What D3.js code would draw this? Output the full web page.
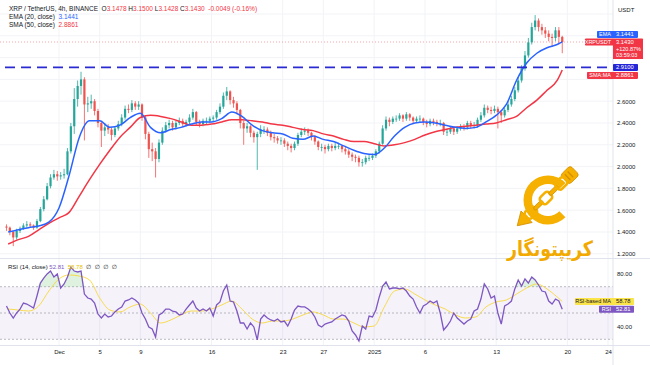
<!DOCTYPE html>
<html>
<head>
<meta charset="utf-8">
<script src="https://cdn.jsdelivr.net/npm/d3@7"></script>
<style>
  body { margin: 0; background: #fff; }
  svg text { font-family: "Liberation Sans", Arial, "DejaVu Sans", sans-serif; white-space: pre; }
</style>
</head>
<body>
<div id="chart"></div>
<script>
// XRP / TetherUS 4h (8h steps)
let firstOpen = 1.45
let closes = [
  1.44,1.40,1.35,1.41,1.43,1.46,1.47,1.46,1.44,1.50,
  1.61,1.70,1.82,1.90,1.93,1.91,1.92,1.93,2.14,2.37,
  2.62,2.74,2.80,2.57,2.58,2.60,2.51,2.40,2.33,2.36,
  2.34,2.29,2.35,2.39,2.45,2.53,2.52,2.58,2.55,2.57,
  2.45,2.30,2.16,2.14,2.07,2.22,2.33,2.38,2.40,2.36,
  2.40,2.42,2.39,2.41,2.45,2.50,2.41,2.39,2.42,2.42,
  2.44,2.45,2.50,2.55,2.65,2.69,2.61,2.58,2.52,2.40,
  2.35,2.37,2.31,2.27,2.30,2.34,2.34,2.31,2.27,2.26,
  2.24,2.24,2.21,2.19,2.17,2.21,2.29,2.32,2.33,2.31,
  2.27,2.23,2.18,2.18,2.16,2.19,2.17,2.19,2.19,2.16,
  2.14,2.11,2.09,2.08,2.04,2.04,2.08,2.08,2.10,2.14,
  2.21,2.35,2.43,2.41,2.44,2.44,2.47,2.44,2.48,2.45,
  2.42,2.44,2.44,2.41,2.39,2.42,2.41,2.40,2.40,2.32,
  2.32,2.35,2.32,2.35,2.37,2.36,2.40,2.38,2.38,2.43,
  2.47,2.54,2.52,2.51,2.53,2.50,2.47,2.52,2.57,2.62,
  2.70,2.79,2.90,3.02,3.14,3.28,3.34,3.28,3.25,3.22,
  3.19,3.18,3.25,3.19,3.143
]
let highs = [
  1.47,1.45,1.41,1.43,1.45,1.48,1.50,1.49,1.47,1.52,
  1.63,1.73,1.85,1.93,1.97,1.96,1.95,1.98,2.17,2.40,
  2.72,2.79,2.87,2.82,2.64,2.66,2.62,2.53,2.42,2.40,
  2.39,2.36,2.37,2.42,2.48,2.56,2.57,2.61,2.60,2.60,
  2.58,2.47,2.32,2.22,2.17,2.25,2.36,2.41,2.43,2.42,
  2.42,2.45,2.44,2.43,2.48,2.53,2.51,2.43,2.44,2.45,
  2.46,2.47,2.52,2.58,2.68,2.73,2.70,2.64,2.60,2.53,
  2.42,2.40,2.38,2.33,2.32,2.38,2.37,2.36,2.33,2.30,
  2.28,2.27,2.26,2.23,2.21,2.23,2.31,2.35,2.36,2.35,
  2.32,2.29,2.24,2.21,2.20,2.21,2.21,2.22,2.22,2.20,
  2.18,2.16,2.13,2.11,2.10,2.07,2.10,2.11,2.12,2.16,
  2.23,2.38,2.46,2.45,2.46,2.47,2.49,2.48,2.50,2.49,
  2.46,2.46,2.47,2.45,2.43,2.44,2.44,2.43,2.43,2.41,
  2.35,2.37,2.36,2.37,2.39,2.39,2.42,2.42,2.41,2.45,
  2.50,2.57,2.56,2.55,2.56,2.55,2.52,2.54,2.60,2.65,
  2.73,2.82,2.93,3.06,3.18,3.32,3.39,3.36,3.31,3.28,
  3.25,3.22,3.28,3.28,3.20
]
let lows = [
  1.41,1.37,1.27,1.33,1.39,1.42,1.44,1.44,1.42,1.43,
  1.49,1.59,1.69,1.80,1.88,1.87,1.88,1.89,1.92,2.12,
  2.30,2.55,2.66,2.24,2.50,2.53,2.47,2.36,2.18,2.28,
  2.30,2.24,2.27,2.33,2.37,2.43,2.49,2.50,2.52,2.52,
  2.42,2.25,2.08,2.05,1.90,2.04,2.20,2.31,2.35,2.33,
  2.34,2.38,2.37,2.37,2.39,2.43,2.38,2.36,2.37,2.39,
  2.40,2.41,2.43,2.48,2.53,2.61,2.57,2.54,2.48,2.35,
  2.20,2.31,2.27,2.22,1.97,2.27,2.30,2.28,2.24,2.22,
  2.21,2.20,2.18,2.15,2.13,2.15,2.19,2.27,2.29,2.28,
  2.24,2.20,2.15,2.14,2.12,2.14,2.14,2.15,2.16,2.13,
  2.11,2.08,2.05,2.04,2.00,2.00,2.02,2.05,2.06,2.08,
  2.12,2.20,2.33,2.37,2.39,2.41,2.42,2.41,2.42,2.42,
  2.39,2.40,2.41,2.38,2.36,2.37,2.38,2.37,2.37,2.29,
  2.28,2.30,2.29,2.30,2.33,2.33,2.34,2.35,2.35,2.36,
  2.41,2.45,2.49,2.48,2.49,2.35,2.40,2.45,2.50,2.55,
  2.60,2.68,2.77,2.88,3.00,3.12,3.25,3.24,3.21,3.18,
  3.15,3.10,3.15,3.12,3.04
]
let rsiValues = [
  55.3,50.0,46.2,50.0,53.0,57.6,56.8,55.3,53.8,62.9,
  72.8,76.6,79.7,81.9,77.4,79.7,69.0,72.1,77.4,85.0,
  81.9,81.2,81.9,64.4,61.4,60.6,57.6,49.2,46.2,49.2,
  47.0,47.7,50.8,53.0,54.6,59.1,59.9,61.4,59.9,57.6,
  50.0,45.4,39.4,37.8,31.7,48.5,50.0,53.0,53.0,51.5,
  50.8,48.5,49.2,53.0,56.1,59.1,53.8,51.5,53.0,51.5,
  53.8,47.7,56.1,58.4,66.7,71.3,59.1,58.4,51.5,42.4,
  42.4,37.8,42.4,39.4,29.5,45.4,48.5,46.2,44.7,43.9,
  45.4,43.2,43.9,40.1,45.4,52.3,55.3,54.6,54.6,53.0,
  50.8,47.0,40.9,39.4,41.6,42.4,43.2,45.4,47.0,48.5,
  47.7,43.9,36.3,33.3,28.7,40.1,37.8,47.7,47.0,52.3,
  62.2,70.5,73.6,68.3,69.0,69.0,68.3,69.0,66.7,62.9,
  60.6,54.6,50.0,55.3,56.8,59.1,57.6,59.1,50.0,37.1,
  40.1,43.9,50.0,46.2,43.9,41.6,43.9,45.4,51.5,53.0,
  60.6,72.1,68.3,61.4,62.9,50.0,41.6,55.3,56.8,59.1,
  68.3,75.1,70.5,75.9,72.8,77.4,75.1,71.3,66.7,66.0,
  59.1,56.8,60.6,59.1,52.81
]

// indicator lines, one value per day from Nov 26 to Jan 19, then the live value
let emaDaily = [
  1.40,1.42,1.44,1.455,1.49, 1.62,1.92,2.27,2.42,2.42,
  2.36,2.38,2.45,2.49,2.36, 2.31,2.34,2.36,2.39,2.41,
  2.41,2.44,2.50,2.46,2.38, 2.33,2.31,2.30,2.26,2.25,
  2.28,2.25,2.23,2.19,2.15, 2.12,2.11,2.17,2.28,2.36,
  2.40,2.41,2.40,2.38,2.36, 2.35,2.36,2.41,2.47,2.57,
  2.79,2.95,3.04,3.09,3.12
]
let smaDaily = [
  1.29,1.33,1.36,1.42,1.48, 1.53,1.58,1.73,1.88,2.02,
  2.15,2.27,2.36,2.45,2.47, 2.46,2.44,2.41,2.38,2.38,
  2.39,2.41,2.43,2.43,2.42, 2.41,2.39,2.38,2.36,2.34,
  2.33,2.30,2.28,2.25,2.23, 2.23,2.21,2.19,2.20,2.22,
  2.25,2.29,2.32,2.34,2.36, 2.37,2.38,2.39,2.40,2.43,
  2.46,2.54,2.61,2.70,2.79
]
let rsiMaDaily = [
  53.0,52.3,51.5,55.3,66.7, 75.9,78.9,78.1,75.1,61.4,
  52.3,50.8,54.6,56.8,50.0, 42.4,44.7,48.5,51.5,51.5,
  53.0,56.1,59.1,53.0,45.4, 42.4,43.9,43.9,45.4,48.5,
  50.8,48.5,45.4,45.4,42.4, 39.4,40.1,54.6,66.7,68.3,
  64.4,59.9,56.1,53.0,48.5, 46.2,47.0,54.6,58.4,59.9,
  64.4,69.0,72.1,68.3,62.2
]
let emaLast = 3.1441
let smaLast = 2.8861
let rsiMaLast = 58.78
let rsiLast = 52.81
let supportLevel = 2.91

let priceTicks = [1.2, 1.4, 1.6, 1.8, 2.0, 2.2, 2.4, 2.6]
let gridPrices = [1.2, 1.4, 1.6, 1.8, 2.0, 2.2, 2.4, 2.6, 2.8, 3.0, 3.2, 3.4]
let rsiTicks = [80, 40]
let timeTicks = ["2024-12-01","2024-12-05","2024-12-09","2024-12-16","2024-12-23","2024-12-27",
                 "2025-01-01","2025-01-06","2025-01-13","2025-01-20","2025-01-24"]
let timeTickLabels = ["Dec","5","9","16","23","27","2025","6","13","20","24"]
let ohlcNames = ["O","H","L","C"]
let ohlcValues = ["3.1478","3.1500","3.1428","3.1430"]

// ---- layout ----
let W = 613, mainBottom = 258, rsiBottom = 345
let up = "#26a69a", down = "#ef5350"
let emaColor = "#2962ff", smaColor = "#f23645", rsiColor = "#7e57c2", rsiMaColor = "#f7d83a"

let parseDay = d3.timeParse("%Y-%m-%d")
let tickDates = timeTicks.map(parseDay)
let candleStart = new Date(2024, 10, 25, 20)
let step = 8 * 3600 * 1000
let lastTime = new Date(candleStart.getTime() + (closes.length - 1) * step)
let firstDay = new Date(2024, 10, 26)

let x = d3.scaleTime().domain([new Date(2024, 11, 1), new Date(2025, 0, 24)]).range([59, 608])
let y = d3.scaleLinear().domain([1.2, 2.6]).range([253.8, 101.2])
let rsiY = d3.scaleLinear().domain([30, 70]).range([339.3, 286.7])

let svg = d3.select("#chart").append("svg").attr("width", 650).attr("height", 365)
svg.append("rect").attr("width", 650).attr("height", 365).attr("fill", "#fff")

let defs = svg.append("defs")
defs.append("clipPath").attr("id", "mainClip").append("rect")
  .attr("x", 0).attr("y", 0).attr("width", W).attr("height", mainBottom)
defs.append("clipPath").attr("id", "rsiClip").append("rect")
  .attr("x", 0).attr("y", mainBottom + 1).attr("width", W).attr("height", rsiBottom - mainBottom - 1)

// grid
let grid = svg.append("g")
grid.selectAll(".hg").data(gridPrices).enter().append("line")
  .attr("x1", 0).attr("x2", W).attr("y1", d => y(d)).attr("y2", d => y(d))
  .attr("stroke", "#f2f3f7").attr("stroke-width", 1)
grid.selectAll(".vg").data(tickDates).enter().append("line")
  .attr("x1", d => x(d)).attr("x2", d => x(d)).attr("y1", 0).attr("y2", rsiBottom)
  .attr("stroke", "#f2f3f7").attr("stroke-width", 1)

// ---- main pane ----
let main = svg.append("g").attr("clip-path", "url(#mainClip)")

let candles = closes.map(function(c, i) {
  return {t: new Date(candleStart.getTime() + i * step), o: i == 0 ? firstOpen : closes[i - 1], h: highs[i], l: lows[i], c: c}
})

// current price dotted line
main.append("line").attr("x1", 0).attr("x2", W).attr("y1", y(closes[closes.length - 1])).attr("y2", y(closes[closes.length - 1]))
  .attr("stroke", "#f23645").attr("stroke-opacity", 0.45).attr("stroke-dasharray", "1,2")

let cg = main.append("g")
cg.selectAll("line").data(candles).enter().append("line")
  .attr("x1", d => x(d.t)).attr("x2", d => x(d.t))
  .attr("y1", d => y(d.h)).attr("y2", d => y(d.l))
  .attr("stroke", d => d.c >= d.o ? up : down).attr("stroke-width", 0.8)
cg.selectAll("rect").data(candles).enter().append("rect")
  .attr("x", d => x(d.t) - 1.1).attr("width", 2.2)
  .attr("y", d => y(Math.max(d.o, d.c)))
  .attr("height", d => Math.max(0.8, Math.abs(y(d.o) - y(d.c))))
  .attr("fill", d => d.c >= d.o ? up : down)

function dailyPoints(vals, last) {
  let pts = vals.map((v, i) => ({t: d3.timeDay.offset(firstDay, i), v: v}))
  pts.push({t: lastTime, v: last})
  return pts
}
let priceLine = d3.line().x(d => x(d.t)).y(d => y(d.v)).curve(d3.curveMonotoneX)

main.append("path").datum(dailyPoints(smaDaily, smaLast)).attr("d", priceLine)
  .attr("fill", "none").attr("stroke", smaColor).attr("stroke-width", 1.5)
main.append("path").datum(dailyPoints(emaDaily, emaLast)).attr("d", priceLine)
  .attr("fill", "none").attr("stroke", emaColor).attr("stroke-width", 1.5)

// support level
main.append("line").attr("x1", 5).attr("x2", W).attr("y1", y(supportLevel)).attr("y2", y(supportLevel))
  .attr("stroke", "#2a2ad2").attr("stroke-width", 1.7).attr("stroke-dasharray", "10,6")

// ---- RSI pane ----
let rsiG = svg.append("g").attr("clip-path", "url(#rsiClip)")
rsiG.append("rect").attr("x", 0).attr("width", W).attr("y", rsiY(70)).attr("height", rsiY(30) - rsiY(70))
  .attr("fill", "#7e57c2").attr("fill-opacity", 0.08)
rsiG.selectAll(".lvl").data([70, 50, 30]).enter().append("line")
  .attr("x1", 0).attr("x2", W).attr("y1", d => rsiY(d)).attr("y2", d => rsiY(d))
  .attr("stroke", "#9ea1aa").attr("stroke-width", 0.7).attr("stroke-dasharray", "2,2")

let rsiPts = rsiValues.map((v, i) => ({t: candles[i].t, v: v}))
rsiG.append("path").datum(rsiPts)
  .attr("d", d3.area().x(d => x(d.t)).y0(rsiY(70)).y1(d => rsiY(Math.max(d.v, 70))))
  .attr("fill", "#4caf50").attr("fill-opacity", 0.18)
rsiG.append("path").datum(rsiPts)
  .attr("d", d3.area().x(d => x(d.t)).y0(rsiY(30)).y1(d => rsiY(Math.min(d.v, 30))))
  .attr("fill", "#f23645").attr("fill-opacity", 0.18)

let maPts = rsiMaDaily.map((v, i) => ({t: d3.timeDay.offset(firstDay, i), v: v}))
maPts.push({t: lastTime, v: rsiMaLast})
rsiG.append("path").datum(maPts)
  .attr("d", d3.line().x(d => x(d.t)).y(d => rsiY(d.v)).curve(d3.curveMonotoneX))
  .attr("fill", "none").attr("stroke", rsiMaColor).attr("stroke-width", 0.9)
rsiG.append("path").datum(rsiPts)
  .attr("d", d3.line().x(d => x(d.t)).y(d => rsiY(d.v)))
  .attr("fill", "none").attr("stroke", rsiColor).attr("stroke-width", 1.3)

// ---- frame ----
let border = "#e0e3eb"
svg.append("line").attr("x1", W).attr("x2", W).attr("y1", 0).attr("y2", 365).attr("stroke", border)
svg.append("line").attr("x1", 0).attr("x2", 650).attr("y1", mainBottom + 0.5).attr("y2", mainBottom + 0.5).attr("stroke", border)
svg.append("line").attr("x1", 0).attr("x2", 650).attr("y1", rsiBottom + 0.5).attr("y2", rsiBottom + 0.5).attr("stroke", border)

// ---- axes ----
let priceAxis = d3.axisRight(y).tickValues(priceTicks).tickFormat(d3.format(".4f")).tickSize(0).tickPadding(4)
let pa = svg.append("g").attr("transform", "translate(" + W + ",0)").call(priceAxis)
let rsiAxis = d3.axisRight(rsiY).tickValues(rsiTicks).tickFormat(d3.format(".2f")).tickSize(0).tickPadding(4)
let ra = svg.append("g").attr("transform", "translate(" + W + ",0)").call(rsiAxis)
let timeAxis = d3.axisBottom(x).tickValues(tickDates).tickFormat((d, i) => timeTickLabels[i]).tickSize(0).tickPadding(5)
let ta = svg.append("g").attr("transform", "translate(0," + rsiBottom + ")").call(timeAxis)
;[pa, ra, ta].forEach(function(a) {
  a.select(".domain").remove()
  a.selectAll("text").attr("font-size", 6).attr("fill", "#131722")
})
svg.append("text").attr("x", 618).attr("y", 12).attr("font-size", 6).attr("fill", "#131722").text("USDT")

// ---- right side tags ----
function tag(label, value, yc, fill, textColor, labelLeft, valueRight) {
  let g = svg.append("g")
  let h = 7
  g.append("rect").attr("x", labelLeft).attr("y", yc - h / 2).attr("width", valueRight - labelLeft).attr("height", h)
    .attr("fill", fill).attr("rx", 0.8)
  if (label) {
    g.append("text").attr("x", W - 2).attr("y", yc + 2).attr("text-anchor", "end")
      .attr("font-size", 5.5).attr("fill", textColor).text(label)
  }
  g.append("text").attr("x", W + 3).attr("y", yc + 2).attr("font-size", 5.8).attr("fill", textColor).text(value)
  return g
}
tag("EMA", emaLast.toFixed(4), y(emaLast) - 7.5, emaColor, "#fff", 597, 638)
let lastPx = closes[closes.length - 1]
let xr = tag("XRPUSDT", lastPx.toFixed(4), y(lastPx), "#f23645", "#fff", 585, 643)
xr.insert("rect", "text").attr("x", W).attr("y", y(lastPx)).attr("width", 30).attr("height", 17).attr("fill", "#f23645")
xr.append("text").attr("x", W + 3).attr("y", y(lastPx) + 8.5).attr("font-size", 5.5).attr("fill", "#fff").text("+120.87%")
xr.append("text").attr("x", W + 3).attr("y", y(lastPx) + 15).attr("font-size", 5.5).attr("fill", "#fff").text("03:59:03")
tag(null, supportLevel.toFixed(4), y(supportLevel), "#2525d8", "#fff", W, 638)
tag("SMA:MA", smaLast.toFixed(4), y(supportLevel) + 8, "#f23645", "#fff", 587, 638)
tag("RSI-based MA", rsiMaLast.toFixed(2), rsiY(rsiMaLast), "#fbe34a", "#131722", 575, 634)
tag("RSI", rsiLast.toFixed(2), rsiY(rsiLast), rsiColor, "#fff", 599, 634)

// ---- legends ----
let leg = svg.append("g").attr("font-size", 6.5)
let l1 = leg.append("text").attr("x", 9).attr("y", 11).attr("fill", "#131722")
l1.append("tspan").text("XRP / TetherUS, 4h, BINANCE ")
ohlcNames.forEach(function(n, i) {
  l1.append("tspan").attr("fill", "#131722").text(" " + n)
  l1.append("tspan").attr("fill", "#f23645").text(ohlcValues[i])
})
l1.append("tspan").attr("fill", "#f23645").text("  -0.0049 (-0.16%)")
let l2 = leg.append("text").attr("x", 9).attr("y", 19).attr("fill", "#131722")
l2.append("tspan").text("EMA (20, close)  ")
l2.append("tspan").attr("fill", emaColor).text(emaLast.toFixed(4))
let l3 = leg.append("text").attr("x", 9).attr("y", 27).attr("fill", "#131722")
l3.append("tspan").text("SMA (50, close)  ")
l3.append("tspan").attr("fill", smaColor).text(smaLast.toFixed(4))

let l4 = svg.append("text").attr("x", 8).attr("y", 269).attr("font-size", 6).attr("fill", "#131722")
l4.append("tspan").text("RSI (14, close) ")
l4.append("tspan").attr("fill", rsiColor).text(rsiLast.toFixed(2))
l4.append("tspan").attr("fill", "#e6c200").text("  " + rsiMaLast.toFixed(2))
l4.append("tspan").attr("fill", "#131722").text("  \u2205  \u2205  \u2205  \u2205")

// ---- watermark logo ----
let gold = "#f5b000", goldDark = "#d48f00"
let logo = svg.append("g").attr("transform", "translate(548,200)")
logo.append("path")
  .attr("d", d3.arc()({innerRadius: 16, outerRadius: 24.5, startAngle: 2.35, endAngle: 2 * Math.PI + 0.8}))
  .attr("fill", gold)
let chain = logo.append("g").attr("transform", "translate(-2,-2) rotate(-44)")
chain.append("rect").attr("x", 26).attr("y", -6.5).attr("width", 14).attr("height", 13).attr("rx", 3)
  .attr("fill", gold).attr("stroke", goldDark).attr("stroke-width", 0.8)
chain.selectAll(".slot").data([30, 34]).enter().append("line")
  .attr("x1", d => d).attr("x2", d => d).attr("y1", -4).attr("y2", 4)
  .attr("stroke", goldDark).attr("stroke-width", 1.2)
chain.append("path").attr("d", "M-27,-8 L-27,8 L-40,0 Z").attr("fill", gold).attr("stroke", goldDark).attr("stroke-width", 0.8)
chain.selectAll(".lnk").data([-21, -10.5, 0, 10.5, 21]).enter().append("rect")
  .attr("x", d => d - 6).attr("y", (d, i) => i % 2 ? -2 : -4.5)
  .attr("width", 12).attr("height", (d, i) => i % 2 ? 4 : 9).attr("rx", 3)
  .attr("fill", (d, i) => i % 2 ? gold : "none")
  .attr("stroke", (d, i) => i % 2 ? goldDark : gold).attr("stroke-width", (d, i) => i % 2 ? 0.8 : 2.6)
svg.append("text").attr("x", 550).attr("y", 256).attr("text-anchor", "middle")
  .attr("font-size", 21).attr("font-weight", "bold").attr("fill", "#f2aa00")
  .attr("textLength", 86).attr("lengthAdjust", "spacingAndGlyphs")
  .style("font-family", "'DejaVu Sans', sans-serif").text("کریپتونگار")
</script>
</body>
</html>
